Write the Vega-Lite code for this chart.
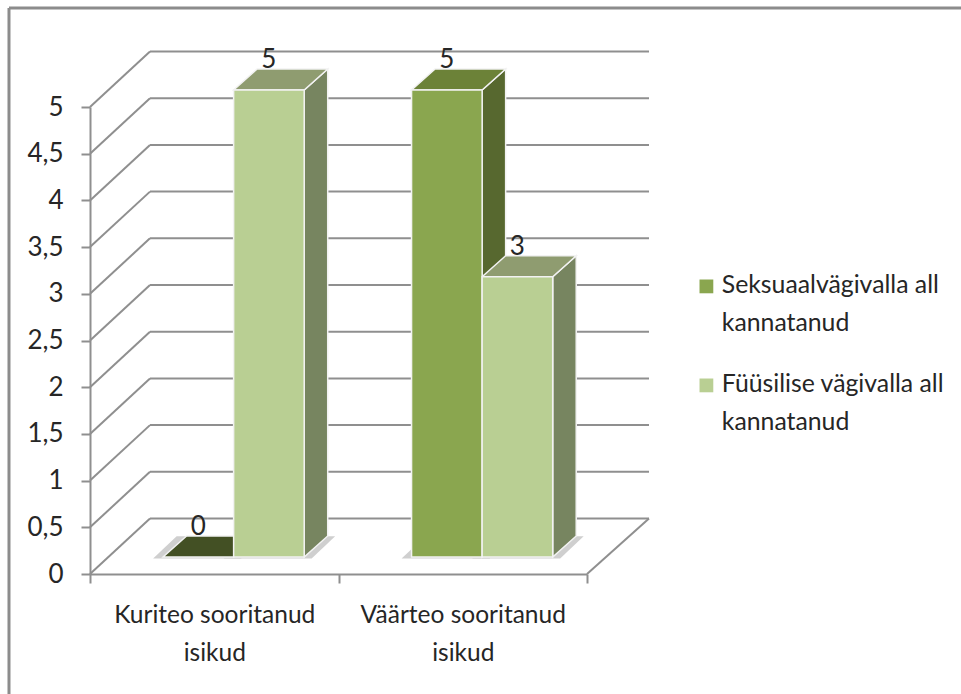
{
"$schema":"https://vega.github.io/schema/vega-lite/v6.json",
"width":559,"height":522,
"autosize":{"type":"none"},
"padding":{"left":90,"top":52,"right":312,"bottom":120},
"background":"white",
"config":{"view":{"stroke":null},"font":"Lato","text":{"font":"Lato"},"style":{"guide-label":{"lineHeight":38}}},
"datasets":{
 "bars":[
  {"category":"Kuriteo sooritanud isikud","series":"Seksuaalvägivalla all kannatanud","value":0},
  {"category":"Kuriteo sooritanud isikud","series":"Füüsilise vägivalla all kannatanud","value":5},
  {"category":"Väärteo sooritanud isikud","series":"Seksuaalvägivalla all kannatanud","value":5},
  {"category":"Väärteo sooritanud isikud","series":"Füüsilise vägivalla all kannatanud","value":3}
 ],
 "ticks":[{"tick":0},{"tick":0.5},{"tick":1},{"tick":1.5},{"tick":2},{"tick":2.5},{"tick":3},{"tick":3.5},{"tick":4},{"tick":4.5},{"tick":5}]
},
"layer":[
 {"data":{"name":"ticks"},"transform":[{"calculate":"datum.tick+0.594","as":"back"}],"mark":{"type":"rule","color":"#8f8f8f","strokeWidth":2},
  "encoding":{"x":{"datum":0.2414,"type":"quantitative","scale":{"domain":[0,2],"range":[0,497]},"axis":{"values":[0,0.5,1,1.5,2],"title":null,"grid":false,"domainColor":"#8f8f8f","domainWidth":2,"tickColor":"#8f8f8f","tickWidth":2,"tickSize":9,"tickOpacity":{"condition":{"test":"datum.value%1==0","value":1},"value":0},"labelFontSize":24.5,"labelColor":"#262626","labelLineHeight":38,"labelLimit":400,"labelPadding":20,"labelOverlap":false,"labelBound":false,"labelFlush":false,"labelBaseline":"top","labelExpr":"datum.value==0.5?['Kuriteo sooritanud','isikud']:datum.value==1.5?['Väärteo sooritanud','isikud']:''"}},
   "x2":{"datum":2.2495},
   "y":{"field":"back","type":"quantitative","scale":{"domain":[0,5],"range":[522,55]},"axis":{"values":[0,0.5,1,1.5,2,2.5,3,3.5,4,4.5,5],"title":null,"grid":false,"domainColor":"#8f8f8f","domainWidth":2,"tickColor":"#8f8f8f","tickWidth":2,"tickSize":9,"labelFontSize":26,"labelColor":"#262626","labelPadding":18,"labelOverlap":false,"labelBound":false,"labelFlush":false,"labelExpr":"replace(toString(datum.value),'.',',')"}}}},
 {"data":{"name":"ticks"},"transform":[{"calculate":"datum.tick+0.594","as":"back"}],"mark":{"type":"rule","color":"#8f8f8f","strokeWidth":2},
  "encoding":{"x":{"datum":0,"type":"quantitative"},"x2":{"datum":0.2414},"y":{"field":"tick","type":"quantitative"},"y2":{"field":"back"}}},
 {"data":{"values":[{"a":0}]},"mark":{"type":"rule","color":"#8f8f8f","strokeWidth":2},
  "encoding":{"x":{"datum":2,"type":"quantitative"},"x2":{"datum":2.2495},"y":{"datum":0,"type":"quantitative"},"y2":{"datum":0.594}}},
 {"data":{"values":[{"a":0}]},"mark":{"type":"rule","color":"#8c8c8c","strokeWidth":3},
  "encoding":{"x":{"datum":-0.326,"type":"quantitative"},"y":{"datum":6.06,"type":"quantitative"},"y2":{"datum":-1.29}}},
 {"data":{"values":[{"a":0}]},"mark":{"type":"rule","color":"#8c8c8c","strokeWidth":3},
  "encoding":{"x":{"datum":-0.326,"type":"quantitative"},"x2":{"datum":3.506},"y":{"datum":6.06,"type":"quantitative"}}},
 {"data":{"name":"bars"},
  "transform":[
   {"calculate":"indexof(['Kuriteo sooritanud isikud','Väärteo sooritanud isikud'],datum.category)+0.294+0.284*indexof(['Seksuaalvägivalla all kannatanud','Füüsilise vägivalla all kannatanud'],datum.series)","as":"x0"},
   {"calculate":"[0,1]","as":"t"},{"flatten":["t"]},
   {"calculate":"datum.x0-0.04+datum.t*0.0946","as":"xa"},
   {"calculate":"datum.x0+0.314+datum.t*0.0946","as":"xb"},
   {"calculate":"0.165+datum.t*0.24","as":"ya"}
  ],
  "mark":{"type":"area","orient":"horizontal","color":"#cfcfcf"},
  "encoding":{"detail":[{"field":"category"},{"field":"series"}],"x":{"field":"xa","type":"quantitative"},"x2":{"field":"xb"},"y":{"field":"ya","type":"quantitative"}}},
 {"data":{"name":"bars"},
  "transform":[
   {"calculate":"indexof(['Kuriteo sooritanud isikud','Väärteo sooritanud isikud'],datum.category)+0.294+0.284*indexof(['Seksuaalvägivalla all kannatanud','Füüsilise vägivalla all kannatanud'],datum.series)+0.284","as":"x1"},
   {"calculate":"[0,1]","as":"t"},{"flatten":["t"]},
   {"calculate":"datum.x1+datum.t*0.0946","as":"xa"},
   {"calculate":"datum.value+0.182+datum.t*0.225","as":"ya"},
   {"calculate":"0.182+datum.t*0.225","as":"yb"}
  ],
  "mark":{"type":"area","stroke":"#f2f2f2","strokeWidth":1.5},
  "encoding":{"detail":[{"field":"category"},{"field":"series"}],"x":{"field":"xa","type":"quantitative"},"y":{"field":"ya","type":"quantitative"},"y2":{"field":"yb"},
   "color":{"condition":{"test":"datum.series=='Seksuaalvägivalla all kannatanud'","value":"#57682f"},"value":"#778560"}}},
 {"data":{"name":"bars"},
  "transform":[
   {"calculate":"indexof(['Kuriteo sooritanud isikud','Väärteo sooritanud isikud'],datum.category)+0.294+0.284*indexof(['Seksuaalvägivalla all kannatanud','Füüsilise vägivalla all kannatanud'],datum.series)","as":"x0"},
   {"calculate":"[0,1]","as":"t"},{"flatten":["t"]},
   {"calculate":"datum.x0+datum.t*0.0946","as":"xa"},
   {"calculate":"datum.x0+0.284+datum.t*0.0946","as":"xb"},
   {"calculate":"datum.value+0.182+datum.t*0.225","as":"ya"}
  ],
  "mark":{"type":"area","orient":"horizontal","stroke":"#f2f2f2","strokeWidth":1.5},
  "encoding":{"detail":[{"field":"category"},{"field":"series"}],"x":{"field":"xa","type":"quantitative"},"x2":{"field":"xb"},"y":{"field":"ya","type":"quantitative"},
   "color":{"condition":[{"test":"datum.value==0","value":"#435024"},{"test":"datum.series=='Seksuaalvägivalla all kannatanud'","value":"#6c8238"}],"value":"#8f9c70"}}},
 {"data":{"name":"bars"},
  "transform":[
   {"calculate":"indexof(['Kuriteo sooritanud isikud','Väärteo sooritanud isikud'],datum.category)+0.294+0.284*indexof(['Seksuaalvägivalla all kannatanud','Füüsilise vägivalla all kannatanud'],datum.series)","as":"x0"},
   {"calculate":"datum.x0+0.284","as":"x1"},
   {"calculate":"datum.value+0.182","as":"ya"},
   {"calculate":"0.182","as":"yb"},
   {"filter":"datum.value>0"}
  ],
  "mark":{"type":"rect","stroke":"#f2f2f2","strokeWidth":1.5},
  "encoding":{"x":{"field":"x0","type":"quantitative"},"x2":{"field":"x1"},"y":{"field":"ya","type":"quantitative"},"y2":{"field":"yb"},
   "color":{"field":"series","type":"nominal","scale":{"domain":["Seksuaalvägivalla all kannatanud","Füüsilise vägivalla all kannatanud"],"range":["#8aa64f","#b9cf93"]},
    "legend":{"orient":"none","legendX":604,"legendY":222,"title":null,"symbolType":"square","symbolSize":190,"symbolStrokeWidth":0,"labelFontSize":24.8,"labelColor":"#262626","labelLimit":300,"labelOffset":3,"rowPadding":35,
     "labelExpr":"datum.label=='Seksuaalvägivalla all kannatanud'?['Seksuaalvägivalla all','kannatanud']:['Füüsilise vägivalla all','kannatanud']"}}}},
 {"data":{"name":"bars"},
  "transform":[
   {"calculate":"indexof(['Kuriteo sooritanud isikud','Väärteo sooritanud isikud'],datum.category)+0.294+0.284*indexof(['Seksuaalvägivalla all kannatanud','Füüsilise vägivalla all kannatanud'],datum.series)+0.142","as":"xm"},
   {"calculate":"datum.value+0.407","as":"ya"}
  ],
  "mark":{"type":"text","fontSize":26,"color":"#262626","baseline":"alphabetic","align":"center","dy":-1},
  "encoding":{"x":{"field":"xm","type":"quantitative"},"y":{"field":"ya","type":"quantitative"},"text":{"field":"value","type":"quantitative"}}}
]
}
